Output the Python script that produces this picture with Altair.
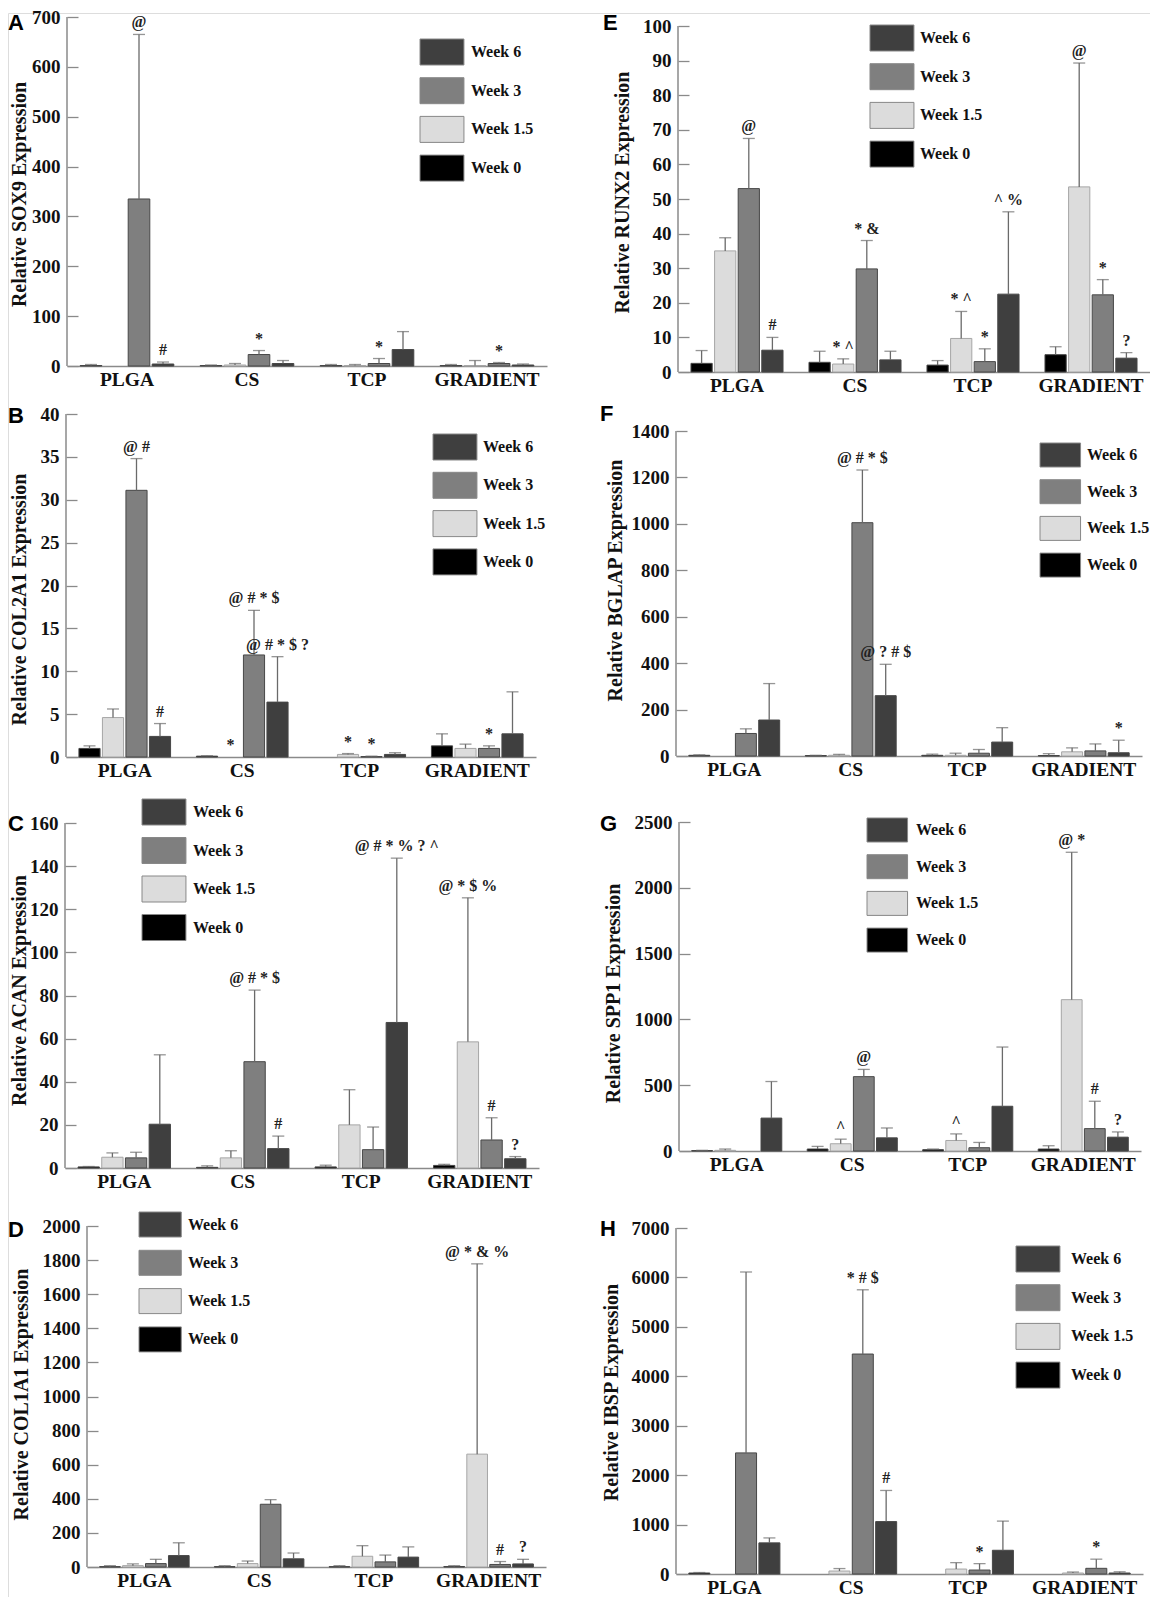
import altair as alt
import pandas as pd

# ---------------- data ----------------
GROUPS = ["PLGA", "CS", "TCP", "GRADIENT"]
WEEKS = ["Week 0", "Week 1.5", "Week 3", "Week 6"]
LEGEND_ORDER = ["Week 6", "Week 3", "Week 1.5", "Week 0"]
FILLS = ["#3f3f3f", "#7f7f7f", "#dcdcdc", "#000000"]

# rows: Week 0, Week 1.5, Week 3, Week 6 ; columns: PLGA, CS, TCP, GRADIENT
SOX9_MEAN = [[1, 1, 1, 1], [0, 2, 1, 1], [335, 23, 5, 5], [4, 5, 33, 2]]
SOX9_UP = [[3, 2, 3, 3], [None, 5, 3, 11], [665, 31, 15, 7], [8, 11, 69, 4]]
SOX9_SIG = [["", "", "", ""], ["", "", "", ""], ["@", "*", "*", "*"], ["#", "", "", ""]]

COL2A1_MEAN = [[1.0, 0.1, 0, 1.3], [4.6, 0, 0.3, 1.0], [31.1, 11.9, 0.05, 1.0], [2.4, 6.4, 0.3, 2.7]]
COL2A1_UP = [[1.3, 0.15, None, 2.7], [5.6, None, 0.4, 1.5], [34.8, 17.1, 0.1, 1.3], [3.9, 11.7, 0.5, 7.6]]
COL2A1_SIG = [["", "", "", ""], ["", "*", "*", ""], ["@ #", "@ # * $", "*", "*"], ["#", "@ # * $ ?", "", ""]]

ACAN_MEAN = [[0.5, 0.3, 0.5, 1.2], [5, 4.7, 20, 58.5], [4.7, 49.3, 8.5, 13], [20.3, 9, 67.5, 4.3]]
ACAN_UP = [[0.7, 1.0, 1.3, 1.7], [7, 8, 36.3, 125.3], [7.3, 82.5, 19, 23.3], [52.5, 14.8, 143.7, 5.3]]
ACAN_SIG = [["", "", "", ""], ["", "", "", "@ * $ %"], ["", "@ # * $", "", "#"], ["", "#", "@ # * % ? ^", "?"]]

COL1A1_MEAN = [[2, 2, 2, 3], [8, 20, 63, 662], [20, 368, 30, 15], [67, 48, 58, 18]]
COL1A1_UP = [[8, 8, 8, 8], [18, 35, 125, 1778], [45, 395, 70, 32], [142, 82, 118, 45]]
COL1A1_SIG = [["", "", "", ""], ["", "", "", "@ * & %"], ["", "", "", "#"], ["", "", "", "?"]]

RUNX2_MEAN = [[2.5, 2.8, 2.0, 5.0], [35, 2.3, 9.7, 53.5], [53, 29.8, 3.0, 22.3], [6.3, 3.5, 22.5, 4.0]]
RUNX2_UP = [[6.2, 6.0, 3.3, 7.3], [38.8, 3.8, 17.5, 89.3], [67.5, 38, 6.7, 26.7], [10, 6, 46.3, 5.6]]
RUNX2_SIG = [["", "", "", ""], ["", "* ^", "* ^", "@"], ["@", "* &", "*", "*"], ["#", "", "^ %", "?"]]

BGLAP_MEAN = [[3, 2, 3, 2], [0, 3, 3, 18], [97, 1005, 12, 22], [155, 260, 60, 14]]
BGLAP_UP = [[5, 3, 8, 10], [None, 7, 12, 35], [117, 1232, 28, 52], [312, 395, 122, 68]]
BGLAP_SIG = [["", "", "", ""], ["", "", "", ""], ["", "@ # * $", "", ""], ["", "@ ? # $", "", "*"]]

SPP1_MEAN = [[3, 15, 10, 15], [5, 55, 80, 1150], [0, 565, 25, 170], [250, 100, 340, 105]]
SPP1_UP = [[5, 35, 15, 40], [15, 90, 130, 2270], [None, 620, 65, 378], [528, 175, 790, 145]]
SPP1_SIG = [["", "", "", ""], ["", "^", "^", "@ *"], ["", "@", "", "#"], ["", "", "", "?"]]

IBSP_MEAN = [[20, 0, 0, 0], [0, 60, 100, 20], [2450, 4450, 80, 115], [630, 1060, 480, 20]]
IBSP_UP = [[30, None, None, None], [None, 110, 230, 40], [6110, 5750, 210, 300], [730, 1690, 1070, 45]]
IBSP_SIG = [["", "", "", ""], ["", "", "", ""], ["", "* # $", "*", "*"], ["", "#", "", ""]]

# ---------------- layout (page pixels) ----------------
W, H = 1142, 1585
OFF = 8
SERIF = "Liberation Serif"
SANS = "Liberation Sans"
AXIS_GRAY = "#8a8a8a"
ERR_GRAY = "#6a6a6a"
SYMBOL_PATH = "M-1.69,-1L1.69,-1L1.69,1L-1.69,1Z"
LEGEND_EXTRA_ROW = 4   # extra row height Vega adds around the custom symbol

PANELS = [
    dict(letter="A", gene="SOX9", mean=SOX9_MEAN, up=SOX9_UP, sig=SOX9_SIG, ymax=700, step=100,
         box=(67, 547, 12, 361), lt=(8, 25), tt=(19, 189), sw=(420, 36), lab=471, swh=26, pitch=38.7),
    dict(letter="B", gene="COL2A1", mean=COL2A1_MEAN, up=COL2A1_UP, sig=COL2A1_SIG, ymax=40, step=5,
         box=(66, 536, 409, 752), lt=(8, 418), tt=(19, 594), sw=(433, 431), lab=483, swh=26, pitch=38.3),
    dict(letter="C", gene="ACAN", mean=ACAN_MEAN, up=ACAN_UP, sig=ACAN_SIG, ymax=160, step=20,
         box=(65, 539, 818, 1163), lt=(8, 826), tt=(19, 985), sw=(142, 796), lab=193, swh=26, pitch=38.5),
    dict(letter="D", gene="COL1A1", mean=COL1A1_MEAN, up=COL1A1_UP, sig=COL1A1_SIG, ymax=2000, step=200,
         box=(87, 546, 1221, 1562), lt=(8, 1232), tt=(21, 1389), sw=(139, 1209), lab=188, swh=25, pitch=38.3),
    dict(letter="E", gene="RUNX2", mean=RUNX2_MEAN, up=RUNX2_UP, sig=RUNX2_SIG, ymax=100, step=10,
         box=(678, 1150, 21, 367), lt=(603, 25), tt=(622, 187), sw=(870, 22), lab=920, swh=26, pitch=38.7),
    dict(letter="F", gene="BGLAP", mean=BGLAP_MEAN, up=BGLAP_UP, sig=BGLAP_SIG, ymax=1400, step=200,
         box=(676, 1142, 426, 751), lt=(600, 416), tt=(615, 575), sw=(1040, 440), lab=1087, swh=24, pitch=36.7),
    dict(letter="G", gene="SPP1", mean=SPP1_MEAN, up=SPP1_UP, sig=SPP1_SIG, ymax=2500, step=500,
         box=(679, 1141, 817, 1146), lt=(600, 826), tt=(613, 988), sw=(867, 815), lab=916, swh=24, pitch=36.7),
    dict(letter="H", gene="IBSP", mean=IBSP_MEAN, up=IBSP_UP, sig=IBSP_SIG, ymax=7000, step=1000,
         box=(676, 1143, 1223, 1569), lt=(600, 1231), tt=(611, 1387), sw=(1016, 1243), lab=1071, swh=26, pitch=38.7),
]

ONE = pd.DataFrame({"k": [0]})


def build_panel(p):
    L, R, T, B = [v - OFF for v in p["box"]]
    rows = []
    for wi, wk in enumerate(WEEKS):
        for gi, g in enumerate(GROUPS):
            u = p["up"][wi][gi]
            v = p["mean"][wi][gi]
            rows.append(dict(group=g, week=wk, value=v,
                             upper=u, has_up=u is not None,
                             ypos=(u if u is not None else v),
                             sig=p["sig"][wi][gi]))
    df = pd.DataFrame(rows)
    bars_df = df[df["value"] > 0][["group", "week", "value"]]
    err_df = df[df["has_up"]][["group", "week", "value", "upper"]].copy()
    err_df["upper"] = err_df["upper"].astype(float)
    sig_df = df[df["sig"] != ""][["group", "week", "ypos", "sig"]]

    axis_x = L + 11
    x_enc = alt.X("group:N", sort=GROUPS,
                  scale=alt.Scale(domain=GROUPS, range=[L, R], paddingInner=0.2, paddingOuter=0.1),
                  axis=alt.Axis(orient="bottom", offset=-(H - B), title=None, ticks=False, tickSize=0,
                                domain=True, domainColor=AXIS_GRAY, domainWidth=1.5, grid=False,
                                labelAngle=0, labelFont=SERIF, labelFontWeight="bold", labelFontSize=19.5,
                                labelColor="#111", labelPadding=4))
    xo_enc = alt.XOffset("week:N", sort=WEEKS,
                         scale=alt.Scale(domain=WEEKS, paddingInner=0.1, paddingOuter=0.05))
    y_scale = alt.Scale(domain=[0, p["ymax"]], range=[B, T], nice=False, zero=True)
    y_axis = alt.Axis(orient="left", offset=-axis_x, values=list(range(0, p["ymax"] + 1, p["step"])),
                      format="d", tickSize=11, ticks=True, tickColor=AXIS_GRAY, tickWidth=1.3,
                      domain=False, grid=False, labelFont=SERIF, labelFontWeight="bold",
                      labelFontSize=19, labelColor="#111", labelPadding=7, labelOverlap=False,
                      title=f"Relative {p['gene']} Expression", titleFont=SERIF, titleFontWeight="bold",
                      titleFontSize=20, titleColor="#111", titleX=(p["tt"][0] - OFF) - axis_x,
                      titleY=p["tt"][1] - OFF, titleBaseline="middle", titleAlign="center")

    swh = p["swh"]
    sww = 1.69 * swh
    rowh = swh + 1
    leg_x = p["sw"][0] + sww / 2 - rowh / 2 - OFF
    leg_y = p["sw"][1] + swh / 2 - (rowh + LEGEND_EXTRA_ROW) / 2 - OFF
    label_off = p["lab"] - (leg_x + OFF + rowh)
    legend = alt.Legend(orient="none", legendX=leg_x, legendY=leg_y, title=None,
                        symbolType=SYMBOL_PATH, symbolSize=swh * swh, symbolStrokeColor="#888888",
                        symbolStrokeWidth=1, labelFont=SERIF, labelFontWeight="bold", labelFontSize=16,
                        labelColor="#111", labelOffset=label_off,
                        rowPadding=p["pitch"] - rowh - LEGEND_EXTRA_ROW,
                        padding=0, symbolOpacity=1)

    bars = alt.Chart(bars_df).mark_bar(strokeWidth=1).encode(
        x=x_enc, xOffset=xo_enc,
        y=alt.Y("value:Q", scale=y_scale, axis=y_axis),
        color=alt.Color("week:N", scale=alt.Scale(domain=LEGEND_ORDER, range=FILLS), legend=legend),
        stroke=alt.when(alt.datum.week == "Week 1.5").then(alt.value("#a6a6a6")).otherwise(alt.value("#474747")),
    )
    rules = alt.Chart(err_df).mark_rule(color=ERR_GRAY, strokeWidth=1.3).encode(
        x=x_enc, xOffset=xo_enc,
        y=alt.Y("value:Q", scale=y_scale, axis=y_axis), y2="upper:Q")
    caps = alt.Chart(err_df).mark_tick(color=ERR_GRAY, thickness=1.3, size=12, orient="horizontal").encode(
        x=x_enc, xOffset=xo_enc,
        y=alt.Y("upper:Q", scale=y_scale, axis=y_axis))
    sigs = alt.Chart(sig_df).mark_text(font=SERIF, fontWeight="bold", fontSize=16, baseline="bottom",
                                        dy=-4, color="#222").encode(
        x=x_enc, xOffset=xo_enc,
        y=alt.Y("ypos:Q", scale=y_scale, axis=y_axis), text="sig:N")
    yline = alt.Chart(ONE).mark_rule(color=AXIS_GRAY, strokeWidth=1.5).encode(
        x=alt.value(L), y=alt.value(T), y2=alt.value(B))
    letter = alt.Chart(ONE).mark_text(font=SANS, fontWeight="bold", fontSize=22, align="left",
                                      baseline="alphabetic", color="#000").encode(
        x=alt.value(p["lt"][0] - OFF), y=alt.value(p["lt"][1] - OFF), text=alt.value(p["letter"]))
    return alt.layer(bars, rules, caps, sigs, yline, letter)


chart = alt.layer(*[build_panel(p) for p in PANELS]).resolve_scale(
    x="independent", y="independent", color="independent", xOffset="independent"
).resolve_axis(x="independent", y="independent").resolve_legend(color="independent").properties(
    width=W, height=H, padding=0
).configure_view(stroke=None).configure(background="white")

chart.save("out.html", embed_options={"renderer": "svg", "actions": False})
